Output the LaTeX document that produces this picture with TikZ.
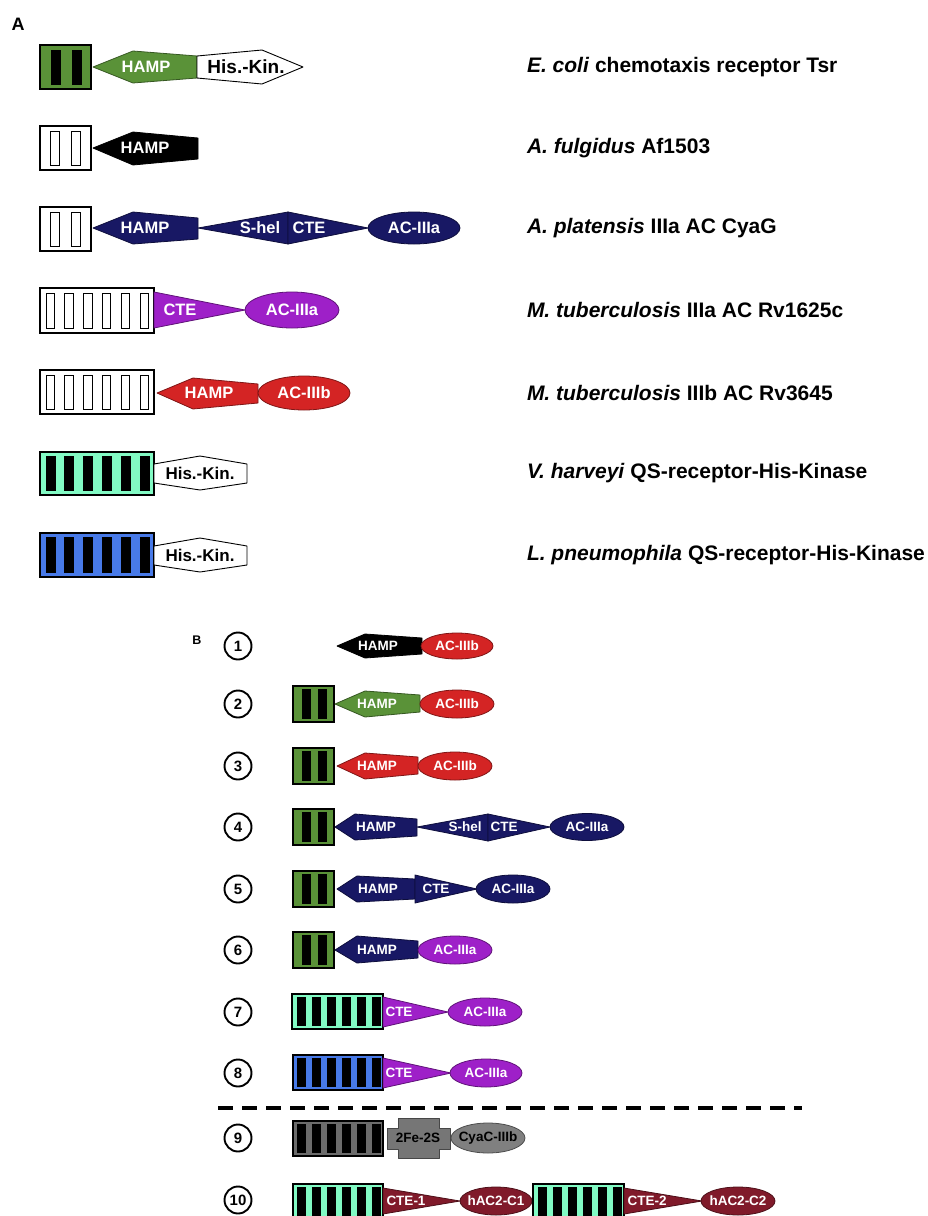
\documentclass[tikz,border=0pt]{standalone}
\usepackage{fontspec}
\setmainfont{Liberation Sans}
\usetikzlibrary{shapes.geometric}

\definecolor{cgreen}{RGB}{90,146,56}
\definecolor{cnavy}{RGB}{24,24,100}
\definecolor{cpurple}{RGB}{158,32,200}
\definecolor{cred}{RGB}{212,36,36}
\definecolor{cmint}{RGB}{130,250,196}
\definecolor{cblue}{RGB}{72,122,232}
\definecolor{cmaroon}{RGB}{128,26,42}
\definecolor{cgreybox}{RGB}{108,108,108}
\definecolor{cgreyfe}{RGB}{118,118,118}
\definecolor{cgreyac}{RGB}{128,128,128}

% membrane domain box with transmembrane bars
% #1 name, #2 x, #3 top y, #4 width, #5 height, #6 fill, #7 bar fill, #8 bar offsets
\newcommand\tmbox[8]{%
  \node[dom, fill=#6, minimum width=#4pt, minimum height=#5pt] (#1) at (#2,#3) {};
  \foreach \bx in {#8}
    \draw[bar, fill=#7] ([shift={(\bx,\tmin)}]#1.north west) rectangle ++(\tmbw,#5-2*\tmin);
}

\begin{document}
\begin{tikzpicture}[x=1pt,y=-1pt,
  every node/.style={inner sep=0pt, outer sep=0pt},
  dom/.style={rectangle, draw=black, line width=1.5pt, anchor=north west},
  bar/.style={draw=black, line width=0.9pt},
  part/.style={fill=#1, draw=#1!60!black, line width=0.8pt, line join=round},
  ac/.style={ellipse, fill=#1, draw=#1!60!black, line width=0.8pt},
  tA/.style={text=white, font=\bfseries\fontsize{16.5}{18}\selectfont},
  tB/.style={text=white, font=\bfseries\fontsize{13.5}{15}\selectfont},
  tBk/.style={text=black, font=\bfseries\fontsize{13.5}{15}\selectfont},
  hk/.style={text=black, font=\bfseries\fontsize{#1}{21}\selectfont},
  hkpart/.style={fill=white, draw=black, line width=0.9pt, line join=round},
  species/.style={anchor=west, font=\bfseries\fontsize{21}{23}\selectfont},
  num/.style={circle, draw=black, line width=1.9pt, minimum size=27pt,
              font=\bfseries\fontsize{15}{16}\selectfont},
  paneltag/.style={font=\bfseries\fontsize{#1}{#1}\selectfont},
]
\useasboundingbox (0,0) rectangle (927,1216);

% ================= Panel A =================
\node[paneltag=18] (tagA) at (18,24) {A};
\def\tmbw{9}\def\tmin{5}

% E. coli Tsr
\tmbox{a1}{40}{45}{51}{44}{cgreen}{black}{11,32}
\draw[part=cgreen] (93,67)--(133,51)--(197,56)--(197,78)--(133,83)--cycle;
\node[tA] (a1h) at (146,67) {HAMP};
\draw[hkpart] (197,56)--(262,50)--(303,67)--(262,84)--(197,78)--cycle;
\node[hk=19] (a1k) at (246,67) {His.-Kin.};
\node[species] (s1) at (527,67) {\textit{E. coli} chemotaxis receptor Tsr};

% A. fulgidus Af1503
\tmbox{a2}{40}{126}{51}{44}{white}{white}{10,31}
\draw[part=black] (93,148)--(133,132)--(198,138)--(198,159)--(133,165)--cycle;
\node[tA] (a2h) at (145,148) {HAMP};
\node[species] (s2) at (527,148) {\textit{A. fulgidus} Af1503};

% A. platensis CyaG
\tmbox{a3}{40}{207}{51}{44}{white}{white}{10,31}
\draw[part=cnavy] (93,228)--(133,212)--(198,218)--(198,239)--(133,244)--cycle;
\node[tA] (a3h) at (145,228) {HAMP};
\draw[part=cnavy] (198,228)--(288,212)--(288,244)--cycle;
\draw[part=cnavy] (288,212)--(368,228)--(288,244)--cycle;
\node[tA] (a3s) at (260,228) {S-hel};
\node[tA] (a3c) at (309,228) {CTE};
\node[ac=cnavy, minimum width=92pt, minimum height=32pt] (a3ac) at (414,228) {};
\node[tA] at (a3ac) {AC-IIIa};
\node[species] (s3) at (527,228) {\textit{A. platensis} IIIa AC CyaG};

% M. tuberculosis Rv1625c
\def\tmbw{8.5}
\tmbox{a4}{40}{288}{114}{45}{white}{white}{6,24.8,43.6,62.4,81.2,100}
\draw[part=cpurple] (154,292)--(245,310)--(154,328)--cycle;
\node[tA] (a4c) at (180,310) {CTE};
\node[ac=cpurple, minimum width=94pt, minimum height=36pt] (a4ac) at (292,310) {};
\node[tA] at (a4ac) {AC-IIIa};
\node[species] (s4) at (527,310) {\textit{M. tuberculosis} IIIa AC Rv1625c};

% M. tuberculosis Rv3645
\tmbox{a5}{40}{370}{114}{44}{white}{white}{6,24.8,43.6,62.4,81.2,100}
\draw[part=cred] (157,393)--(193,378)--(258,384)--(258,403)--(193,409)--cycle;
\node[tA] (a5h) at (209,393) {HAMP};
\node[ac=cred, minimum width=92pt, minimum height=34pt] (a5ac) at (304,393) {};
\node[tA] at (a5ac) {AC-IIIb};
\node[species] (s5) at (527,393) {\textit{M. tuberculosis} IIIb AC Rv3645};

% V. harveyi
\def\tmbw{9}\def\tmin{4.5}
\tmbox{a6}{40}{452}{114}{43}{cmint}{black}{6,24.8,43.6,62.4,81.2,100}
\draw[hkpart] (154,464)--(200,456)--(247,464)--(247,483)--(200,490)--(154,483)--cycle;
\node[hk=17] (a6k) at (200,473) {His.-Kin.};
\node[species] (s6) at (527,473) {\textit{V. harveyi} QS-receptor-His-Kinase};

% L. pneumophila
\tmbox{a7}{40}{533}{114}{44}{cblue}{black}{6,24.8,43.6,62.4,81.2,100}
\draw[hkpart] (154,546)--(200,538)--(247,546)--(247,565)--(200,572)--(154,565)--cycle;
\node[hk=17] (a7k) at (200,555) {His.-Kin.};
\node[species] (s7) at (527,555) {\textit{L. pneumophila} QS-receptor-His-Kinase};

% ================= Panel B =================
\node[paneltag=12.5] (tagB) at (197,640) {B};
\def\tmbw{8}\def\tmin{3.5}

% 1
\node[num] (b1) at (238,646) {1};
\draw[part=black] (337,646)--(365,634)--(422,638)--(422,654)--(365,658)--cycle;
\node[tB] (b1h) at (378,646) {HAMP};
\node[ac=cred, minimum width=72pt, minimum height=26pt] (b1ac) at (457,646) {};
\node[tB] at (b1ac) {AC-IIIb};

% 2
\node[num] (b2) at (238,704) {2};
\tmbox{b2box}{293}{686}{41}{36}{cgreen}{black}{9,25}
\draw[part=cgreen] (335,704)--(365,691)--(420,695)--(420,712)--(365,717)--cycle;
\node[tB] (b2h) at (377,704) {HAMP};
\node[ac=cred, minimum width=74pt, minimum height=28pt] (b2ac) at (457,704) {};
\node[tB] at (b2ac) {AC-IIIb};

% 3
\node[num] (b3) at (238,766) {3};
\tmbox{b3box}{293}{748}{41}{36}{cgreen}{black}{9,25}
\draw[part=cred] (337,766)--(365,753)--(418,757)--(418,774)--(365,779)--cycle;
\node[tB] (b3h) at (377,766) {HAMP};
\node[ac=cred, minimum width=74pt, minimum height=28pt] (b3ac) at (455,766) {};
\node[tB] at (b3ac) {AC-IIIb};

% 4
\node[num] (b4) at (238,827) {4};
\tmbox{b4box}{293}{809}{41}{36}{cgreen}{black}{9,25}
\draw[part=cnavy] (335,827)--(355,814)--(417,819)--(417,836)--(355,840)--cycle;
\node[tB] (b4h) at (376,827) {HAMP};
\draw[part=cnavy] (417,827)--(488,814)--(488,841)--cycle;
\draw[part=cnavy] (488,814)--(550,827)--(488,841)--cycle;
\node[tB] (b4s) at (465,827) {S-hel};
\node[tB] (b4c) at (504,827) {CTE};
\node[ac=cnavy, minimum width=74pt, minimum height=27pt] (b4ac) at (587,827) {};
\node[tB] at (b4ac) {AC-IIIa};

% 5
\node[num] (b5) at (238,889) {5};
\tmbox{b5box}{293}{871}{41}{36}{cgreen}{black}{9,25}
\draw[part=cnavy] (337,889)--(357,876)--(415,879)--(415,899)--(357,902)--cycle;
\node[tB] (b5h) at (378,889) {HAMP};
\draw[part=cnavy] (415,875)--(477,889)--(415,903)--cycle;
\node[tB] (b5c) at (436,889) {CTE};
\node[ac=cnavy, minimum width=74pt, minimum height=28pt] (b5ac) at (513,889) {};
\node[tB] at (b5ac) {AC-IIIa};

% 6
\node[num] (b6) at (238,950) {6};
\tmbox{b6box}{293}{932}{41}{36}{cgreen}{black}{9,25}
\draw[part=cnavy] (335,950)--(357,936)--(418,941)--(418,958)--(357,963)--cycle;
\node[tB] (b6h) at (377,950) {HAMP};
\node[ac=cpurple, minimum width=74pt, minimum height=28pt] (b6ac) at (455,950) {};
\node[tB] at (b6ac) {AC-IIIa};

% 7
\node[num] (b7) at (238,1012) {7};
\tmbox{b7box}{292}{994}{91}{35}{cmint}{black}{5,20,35,50,65,80}
\draw[part=cpurple] (383,997)--(448,1012)--(383,1027)--cycle;
\node[tB] (b7c) at (399,1012) {CTE};
\node[ac=cpurple, minimum width=74pt, minimum height=28pt] (b7ac) at (485,1012) {};
\node[tB] at (b7ac) {AC-IIIa};

% 8
\node[num] (b8) at (238,1073) {8};
\tmbox{b8box}{293}{1055}{90}{35}{cblue}{black}{4.5,19.5,34.5,49.5,64.5,79.5}
\draw[part=cpurple] (383,1058)--(451,1073)--(383,1088)--cycle;
\node[tB] (b8c) at (399,1073) {CTE};
\node[ac=cpurple, minimum width=72pt, minimum height=28pt] (b8ac) at (486,1073) {};
\node[tB] at (b8ac) {AC-IIIa};

% separator
\coordinate (sepL) at (218,1108);
\coordinate (sepR) at (802,1108);
\draw[line width=3.5pt, dash pattern=on 15pt off 9pt] (sepL) -- (sepR);

% 9
\node[num] (b9) at (238,1138) {9};
\tmbox{b9box}{293}{1121}{90}{35}{cgreybox}{black}{4.5,19.5,34.5,49.5,64.5,79.5}
\draw[part=cgreyfe] (398,1118)--(439,1118)--(439,1128)--(450,1128)--(450,1149)--(439,1149)
  --(439,1158)--(398,1158)--(398,1149)--(387,1149)--(387,1128)--(398,1128)--cycle;
\node[tBk] (b9fe) at (418,1138) {2Fe-2S};
\node[ac=cgreyac, minimum width=74pt, minimum height=30pt] (b9ac) at (488,1138) {};
\node[tBk] at (b9ac) {CyaC-IIIb};

% 10
\node[num] (b10) at (238,1200) {10};
\tmbox{b10boxa}{293}{1184}{90}{35}{cmint}{black}{4.5,19.5,34.5,49.5,64.5,79.5}
\draw[part=cmaroon] (383,1188)--(460,1201)--(383,1214)--cycle;
\node[tB] (b10c1) at (406,1201) {CTE-1};
\node[ac=cmaroon, minimum width=72pt, minimum height=28pt] (b10ac1) at (496,1201) {};
\node[tB] at (b10ac1) {hAC2-C1};
\tmbox{b10boxb}{533}{1184}{91}{35}{cmint}{black}{5,20,35,50,65,80}
\draw[part=cmaroon] (624,1188)--(702,1201)--(624,1214)--cycle;
\node[tB] (b10c2) at (647,1201) {CTE-2};
\node[ac=cmaroon, minimum width=74pt, minimum height=28pt] (b10ac2) at (738,1201) {};
\node[tB] at (b10ac2) {hAC2-C2};
\end{tikzpicture}
\end{document}
